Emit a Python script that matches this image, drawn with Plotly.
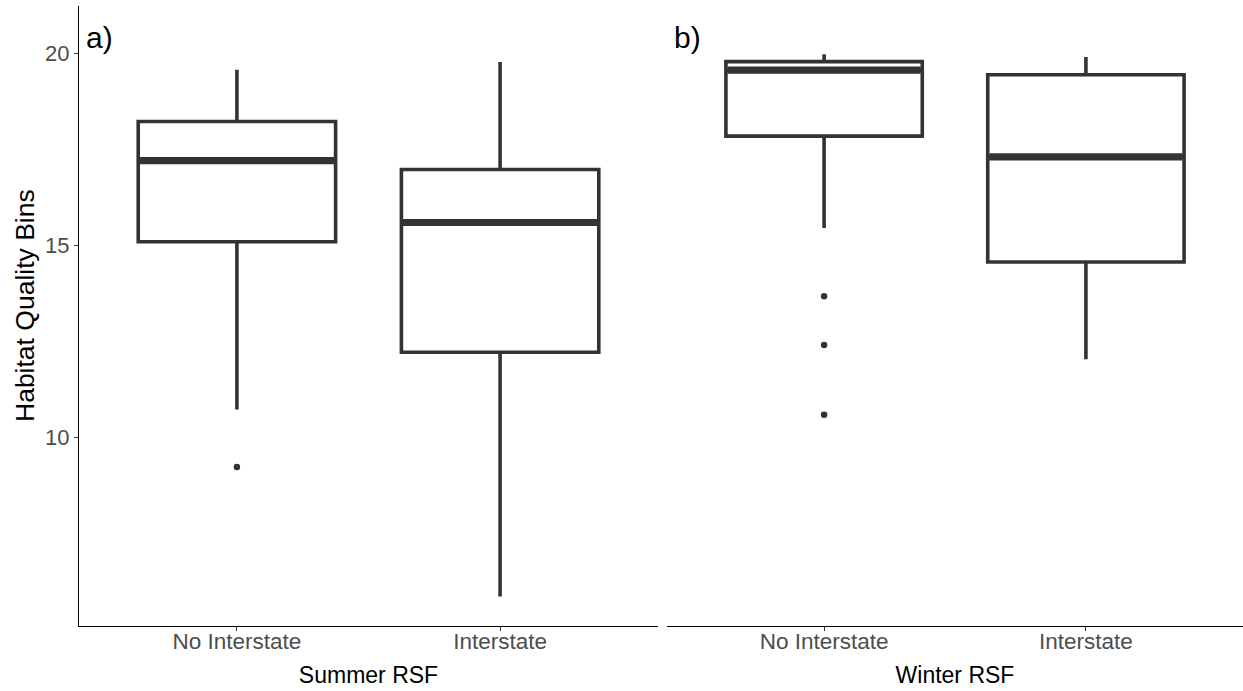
import plotly.graph_objects as go

# ---- data ----
categories = ["No Interstate", "Interstate"]
panels = ["Summer RSF", "Winter RSF"]
panel_tags = ["a)", "b)"]

summer_q1 = [15.10, 12.22]
summer_median = [17.21, 15.60]
summer_q3 = [18.23, 16.98]
summer_low = [10.73, 5.86]
summer_high = [19.58, 19.78]
summer_outliers = [[9.23], []]

winter_q1 = [17.85, 14.57]
winter_median = [19.57, 17.31]
winter_q3 = [19.79, 19.45]
winter_low = [15.46, 12.04]
winter_high = [19.98, 19.91]
winter_outliers = [[13.68, 12.41, 10.59], []]

y_ticks = [10, 15, 20]
y_title = "Habitat Quality Bins"

# ---- styling ----
DARK = "#333333"
FONT = "Liberation Sans"
BOX_W = 0.75
positions = [1, 2]

fig = go.Figure()

series = [
    (summer_q1, summer_median, summer_q3, summer_low, summer_high, summer_outliers, "x", "y"),
    (winter_q1, winter_median, winter_q3, winter_low, winter_high, winter_outliers, "x2", "y2"),
]

for q1, med, q3, lo, hi, outs, xa, ya in series:
    for i, pos in enumerate(positions):
        fig.add_trace(go.Box(
            x=[pos], q1=[q1[i]], median=[med[i]], q3=[q3[i]],
            lowerfence=[lo[i]], upperfence=[hi[i]],
            width=BOX_W, fillcolor="white",
            line=dict(color=DARK, width=3.6),
            boxpoints=False, whiskerwidth=0,
            xaxis=xa, yaxis=ya, showlegend=False, hoverinfo="skip",
        ))
        # thick median bar
        fig.add_trace(go.Scatter(
            x=[pos - BOX_W / 2 + 0.006, pos + BOX_W / 2 - 0.006], y=[med[i], med[i]],
            mode="lines", line=dict(color=DARK, width=7.2),
            xaxis=xa, yaxis=ya, showlegend=False, hoverinfo="skip",
        ))
        if outs[i]:
            fig.add_trace(go.Scatter(
                x=[pos] * len(outs[i]), y=outs[i], mode="markers",
                marker=dict(color=DARK, size=6.5),
                xaxis=xa, yaxis=ya, showlegend=False, hoverinfo="skip",
            ))

W, H = 1243, 691
ML, MR, MT, MB = 79, 0, 6, 65
pw = W - ML - MR
ph = H - MT - MB

xcommon = dict(
    range=[0.4, 2.6], tickvals=positions, ticktext=categories,
    showline=True, linecolor="black", linewidth=1.2,
    ticks="outside", ticklen=4, tickcolor=DARK, tickwidth=1.2,
    tickfont=dict(family=FONT, size=22.5, color="#4D4D4D"),
    ticklabelstandoff=-9,
    showgrid=False, zeroline=False,
)

fig.update_layout(
    width=W, height=H,
    margin=dict(l=ML, r=MR, t=MT, b=MB),
    paper_bgcolor="white", plot_bgcolor="white",
    xaxis=dict(domain=[0, 579 / pw],
               title=dict(text=panels[0], font=dict(family=FONT, size=23, color="black"), standoff=13),
               **xcommon),
    xaxis2=dict(domain=[588 / pw, 1], anchor="y2",
                title=dict(text=panels[1], font=dict(family=FONT, size=23, color="black"), standoff=13),
                **xcommon),
    yaxis=dict(range=[5.09, 21.24], tickvals=y_ticks,
               showline=True, linecolor="black", linewidth=1.2,
               ticks="outside", ticklen=4, tickcolor=DARK, tickwidth=1.2,
               tickfont=dict(family=FONT, size=22, color="#4D4D4D"),
               showgrid=False, zeroline=False),
    yaxis2=dict(range=[5.09, 21.24], anchor="x2", matches="y",
                showline=False, showticklabels=False, ticks="",
                showgrid=False, zeroline=False),
)

fig.add_annotation(text=y_title, textangle=-90, xref="paper", yref="paper",
                   x=(25 - ML) / pw, y=1 - (306 - MT) / ph,
                   xanchor="center", yanchor="middle", showarrow=False,
                   font=dict(family=FONT, size=26.5, color="black"))

for tag, xr in zip(panel_tags, ["x", "x2"]):
    fig.add_annotation(text=tag, x=0.42, y=20.41, xref=xr, yref="y",
                       xanchor="left", yanchor="middle", showarrow=False,
                       font=dict(family=FONT, size=30, color="black"))

fig.write_html("out.html")
